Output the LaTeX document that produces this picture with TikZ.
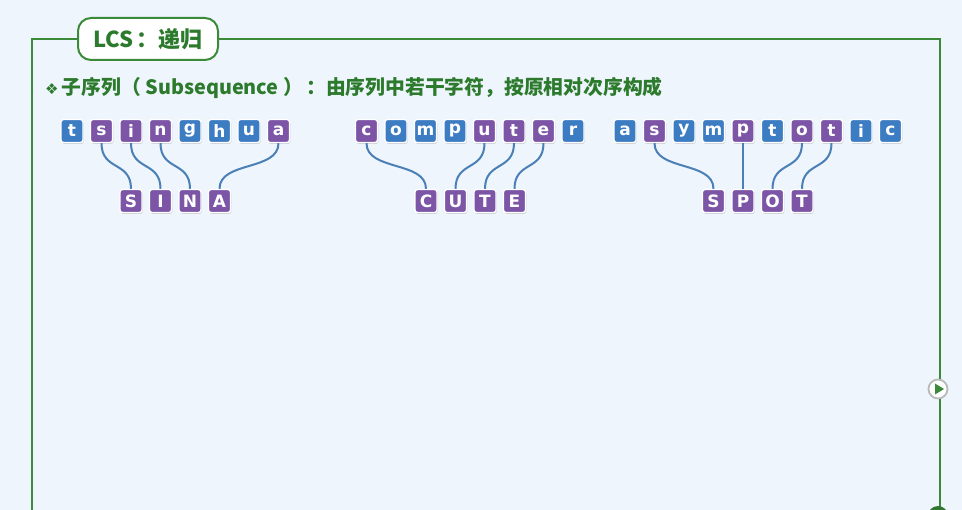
\documentclass[tikz,border=0pt]{standalone}
\usepackage{fontspec}
\newfontfamily\cjk{Noto Sans CJK SC}
\newfontfamily\symfont{DejaVu Sans}
\newfontfamily\tilefont{DejaVu Sans}
\usetikzlibrary{shadows}

\definecolor{bgblue}{HTML}{EEF5FD}
\definecolor{framegreen}{HTML}{3A8A3A}
\definecolor{textgreen}{HTML}{2C7A2C}
\definecolor{tblue}{HTML}{3C7CC2}
\definecolor{tpurple}{HTML}{7C55A6}
\definecolor{linkblue}{HTML}{4A80B6}

\begin{document}
\begin{tikzpicture}[x=1pt,y=-1pt,
    tile/.style={draw=white, line width=1.4pt, rounded corners=2.5pt,
        minimum width=22pt, minimum height=23pt, inner sep=0pt,
        text=white, font=\tilefont\bfseries\fontsize{17}{17}\selectfont,
        drop shadow={opacity=0.3, shadow xshift=0.8pt, shadow yshift=-1.4pt}},
    link/.style={draw=linkblue, line width=2pt},
    frame/.style={draw=framegreen, line width=2pt}]
\useasboundingbox[fill=bgblue] (0,0) rectangle (962,510);
\clip (0,0) rectangle (962,510);

% frame and title
\draw[frame] (32,515) -- (32,39) -- (940,39) -- (940,515);
\node[draw=framegreen, line width=2pt, fill=white, rounded corners=13pt,
    minimum width=140pt, minimum height=42pt, text=textgreen,
    font=\cjk\bfseries\fontsize{22}{22}\selectfont] (title) at (148,39) {LCS\,：递归};

\node[anchor=west, text=textgreen, inner sep=0pt,
    font=\cjk\bfseries\fontsize{19.8}{20}\selectfont] (sub) at (45,88)
    {{\symfont\fontsize{15}{15}\selectfont ❖}\,子序列（ Subsequence ）\,：由序列中若干字符，按原相对次序构成};

% tsinghua -> SINA
\foreach \l/\k [count=\i] in {t/tblue, s/tpurple, i/tpurple, n/tpurple, g/tblue, h/tblue, u/tblue, a/tpurple} {
    \node[tile, fill=\k] (a\i) at ({72+29.5*(\i-1)},131) {\l};
}
\foreach \l [count=\i] in {S, I, N, A} {
    \node[tile, fill=tpurple] (sa\i) at ({131+29.5*(\i-1)},201) {\l};
}
\foreach \u/\v in {2/1, 3/2, 4/3, 8/4} {
    \draw[link] (a\u.south) .. controls +(0,28) and +(0,-28) .. (sa\v.north);
}

% computer -> CUTE
\foreach \l/\k [count=\i] in {c/tpurple, o/tblue, m/tblue, p/tblue, u/tpurple, t/tpurple, e/tpurple, r/tblue} {
    \node[tile, fill=\k] (b\i) at ({366.5+29.5*(\i-1)},131) {\l};
}
\foreach \l [count=\i] in {C, U, T, E} {
    \node[tile, fill=tpurple] (sb\i) at ({426+29.5*(\i-1)},201) {\l};
}
\foreach \u/\v in {1/1, 5/2, 6/3, 7/4} {
    \draw[link] (b\u.south) .. controls +(0,28) and +(0,-28) .. (sb\v.north);
}

% asymptotic -> SPOT
\foreach \l/\k [count=\i] in {a/tblue, s/tpurple, y/tblue, m/tblue, p/tpurple, t/tblue, o/tpurple, t/tpurple, i/tblue, c/tblue} {
    \node[tile, fill=\k] (c\i) at ({625+29.5*(\i-1)},131) {\l};
}
\foreach \l [count=\i] in {S, P, O, T} {
    \node[tile, fill=tpurple] (sc\i) at ({713.5+29.5*(\i-1)},201) {\l};
}
\foreach \u/\v in {2/1, 5/2, 7/3, 8/4} {
    \draw[link] (c\u.south) .. controls +(0,28) and +(0,-28) .. (sc\v.north);
}

% buttons on the right edge
\node[circle, draw=gray!55, line width=1.8pt, fill=white, minimum size=19pt, inner sep=0pt] (play) at (938,389) {};
\fill[framegreen] ([shift={(-3,-5.5)}]play.center) -- ([shift={(6,0)}]play.center)
    -- ([shift={(-3,5.5)}]play.center) -- cycle;
\node[circle, fill=framegreen!85!black, minimum size=20pt, inner sep=0pt] (next) at (938,516) {};
\end{tikzpicture}
\end{document}
